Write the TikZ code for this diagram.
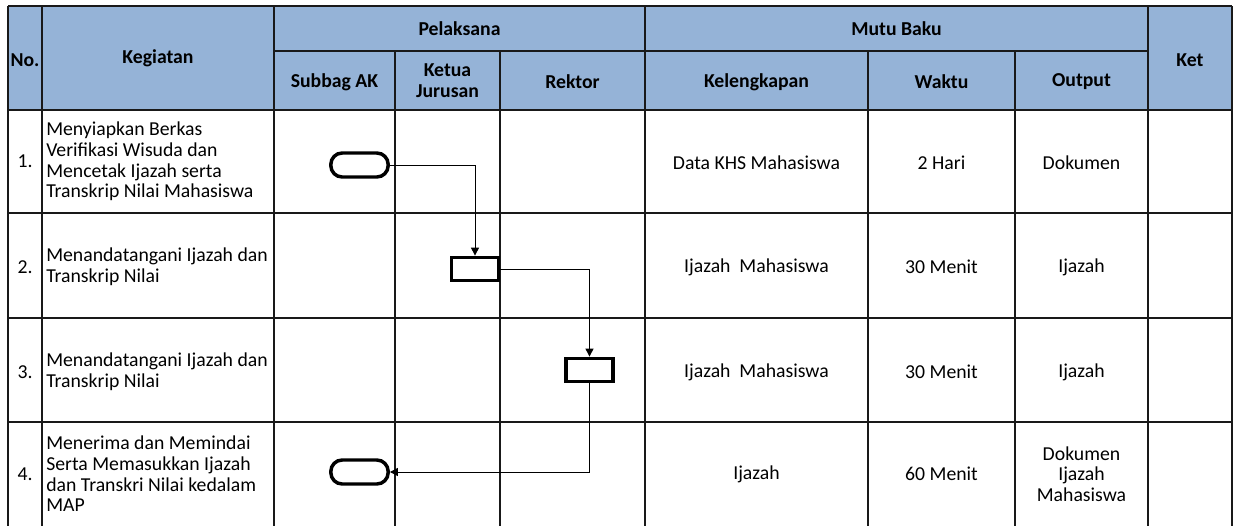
\documentclass[tikz,border=0pt]{standalone}
\usepackage{fontspec}
\setmainfont{Carlito}
\usepackage{xcolor}
\usetikzlibrary{arrows.meta, positioning}
\definecolor{hdrblue}{HTML}{95B3D7}

\begin{document}
\begin{tikzpicture}[x=0.75pt, y=-0.75pt,
  grid/.style={black!90, line width=1.1pt},
  hdr/.style={font=\fontsize{14.8}{15.5}\selectfont\bfseries, align=center, inner sep=0pt},
  cell/.style={font=\fontsize{14.8}{15.5}\selectfont, align=center, inner sep=0pt},
  act/.style={font=\fontsize{14.8}{15.5}\selectfont, align=left, anchor=west, inner sep=0pt},
  term/.style={draw, line width=2.6pt, rounded corners=8.5pt, minimum width=43pt, minimum height=18pt, inner sep=0pt},
  proc/.style={draw, line width=2.6pt, minimum width=35pt, minimum height=17.5pt, inner sep=0pt},
  flow/.style={line width=0.75pt, -{Triangle[length=6pt, width=6pt]}}]
\useasboundingbox (0,0) rectangle (1233,526);
% header
\fill[hdrblue] (8,6) rectangle (1232,110);
\draw[grid] (8,6) -- (1232,6);
\draw[grid] (274,51) -- (1148,51);
\draw[grid] (8,110) -- (1232,110);
\foreach \yy in {213,318,422} \draw[grid] (8,\yy) -- (1232,\yy);
\foreach \xx in {8,42,274,645,1148,1232} \draw[grid] (\xx,6) -- (\xx,526);
\foreach \xx in {395,500,868,1015} \draw[grid] (\xx,51) -- (\xx,526);
\node[hdr] (hno) at (25,60) {No.};
\node[hdr] (hkeg) at (158,58) {Kegiatan};
\node[hdr] (hpel) at (459.5,28.5) {Pelaksana};
\node[hdr] (hmutu) at (896.5,28.5) {Mutu Baku};
\node[hdr] (hket) at (1190,60) {Ket};
\node[hdr] (hsub) at (334.5,82) {Subbag AK};
\node[hdr] (hkj) at (447.5,81) {Ketua\\Jurusan};
\node[hdr] (hrek) at (572.5,82) {Rektor};
\node[hdr] (hkel) at (756.5,82) {Kelengkapan};
\node[hdr] (hwak) at (941.5,82) {Waktu};
\node[hdr] (hout) at (1081.5,82) {Output};
% rows
\node[cell] (n1) at (25,161.5) {1.};
\node[cell] (n2) at (25,267) {2.};
\node[cell] (n3) at (25,372) {3.};
\node[cell] (n4) at (25,474) {4.};
\node[act] (k1) at (46,161.5) {Menyiapkan Berkas\\Verifikasi Wisuda dan\\Mencetak Ijazah serta\\Transkrip Nilai Mahasiswa};
\node[act] (k2) at (46,267) {Menandatangani Ijazah dan\\Transkrip Nilai};
\node[act] (k3) at (46,372) {Menandatangani Ijazah dan\\Transkrip Nilai};
\node[act] (k4) at (46,474) {Menerima dan Memindai\\Serta Memasukkan Ijazah\\dan Transkri Nilai kedalam\\MAP};
\node[cell] (l1) at (756.5,163) {Data KHS Mahasiswa};
\node[cell] (l2) at (756.5,267) {Ijazah\ \ Mahasiswa};
\node[cell] (l3) at (756.5,372) {Ijazah\ \ Mahasiswa};
\node[cell] (l4) at (756.5,474) {Ijazah};
\node[cell] (w1) at (941.5,163) {2 Hari};
\node[cell] (w2) at (941.5,267) {30 Menit};
\node[cell] (w3) at (941.5,372) {30 Menit};
\node[cell] (w4) at (941.5,474) {60 Menit};
\node[cell] (o1) at (1081.5,163) {Dokumen};
\node[cell] (o2) at (1081.5,267) {Ijazah};
\node[cell] (o3) at (1081.5,372) {Ijazah};
\node[cell] (o4) at (1081.5,474) {Dokumen\\Ijazah\\Mahasiswa};
% flow
\node[term] (t1) at (359.5,165) {};
\node[proc] (p2) at (475,269) {};
\node[proc] (p3) at (589.5,370) {};
\node[term] (t4) at (359.5,472) {};
\draw[flow] (t1.east) -| (p2.north);
\draw[flow] (p2.east) -| (p3.north);
\draw[flow] (p3.south) |- (t4.east);
\end{tikzpicture}
\end{document}
